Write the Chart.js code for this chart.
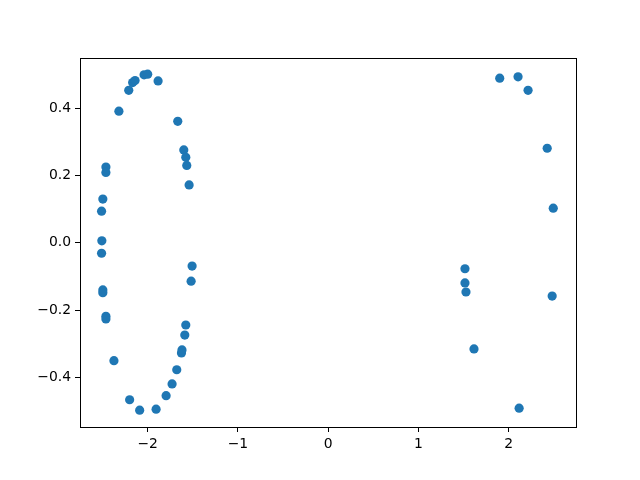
<!DOCTYPE html>
<html>
<head>
<meta charset="utf-8">
<script src="https://cdn.jsdelivr.net/npm/chart.js@4/dist/chart.umd.min.js"></script>
<style>
  body { margin: 0; background: #fff; }
</style>
</head>
<body>
<canvas id="scatterChart" width="640" height="480"></canvas>
<script>
// Point coordinates
const xValues = [
  -2.319, -2.21, -2.167, -2.14, -2.04, -2.00, -1.885, -1.667, -1.60, -1.578, -1.567, -1.541,
  -2.463, -2.463, -2.497, -2.511, -2.508, -2.511, -2.497, -2.497, -2.463, -2.463, -2.374,
  -2.20, -2.089, -1.907, -1.796, -1.73, -1.678, -1.626, -1.62, -1.589, -1.578, -1.519, -1.508,
  1.90, 2.103, 2.214, 2.426, 2.493, 1.515, 1.515, 1.526, 2.481, 1.615, 2.115
];
const yValues = [
  0.391, 0.453, 0.476, 0.482, 0.499, 0.501, 0.481, 0.361, 0.276, 0.254, 0.230, 0.172,
  0.225, 0.209, 0.130, 0.094, 0.006, -0.031, -0.140, -0.148, -0.218, -0.226, -0.350,
  -0.466, -0.497, -0.494, -0.454, -0.419, -0.377, -0.327, -0.318, -0.274, -0.244, -0.114, -0.069,
  0.489, 0.493, 0.453, 0.281, 0.103, -0.077, -0.119, -0.146, -0.158, -0.315, -0.491
];
const xTicks = [-2, -1, 0, 1, 2];
const yTicks = [-0.4, -0.2, 0.0, 0.2, 0.4];

const points = xValues.map((x, i) => ({ x: x, y: yValues[i] }));

function fmt(v, digits) {
  return v.toFixed(digits).replace("-", "\u2212");
}

// draws the top and right spines too
const frame = {
  id: "frame",
  afterDraw(chart) {
    const a = chart.chartArea;
    const ctx = chart.ctx;
    ctx.save();
    ctx.strokeStyle = "#000";
    ctx.lineWidth = 1;
    ctx.strokeRect(Math.round(a.left) + 0.5, Math.round(a.top) + 0.5,
                   Math.round(a.right - a.left), Math.round(a.bottom - a.top));
    ctx.restore();
  }
};

new Chart(document.getElementById("scatterChart"), {
  type: "scatter",
  data: {
    datasets: [{
      data: points,
      backgroundColor: "#1f77b4",
      borderColor: "#1f77b4",
      borderWidth: 0,
      pointRadius: 4.6,
      pointHoverRadius: 4.6
    }]
  },
  options: {
    responsive: false,
    animation: false,
    layout: { padding: { top: 58, right: 64, left: 0, bottom: 0 } },
    plugins: { legend: { display: false }, tooltip: { enabled: false } },
    scales: {
      x: {
        type: "linear",
        min: -2.75,
        max: 2.745,
        afterBuildTicks: axis => { axis.ticks = xTicks.map(v => ({ value: v })); },
        afterFit: axis => { axis.height = 53; },
        border: { color: "#000", width: 1 },
        grid: { drawOnChartArea: false, color: "#000", tickLength: 5 },
        ticks: {
          color: "#000",
          padding: 4,
          maxRotation: 0,
          font: { family: "DejaVu Sans", size: 13.9 },
          callback: v => fmt(v, 0)
        }
      },
      y: {
        type: "linear",
        min: -0.547,
        max: 0.549,
        afterBuildTicks: axis => { axis.ticks = yTicks.map(v => ({ value: v })); },
        afterFit: axis => { axis.width = 80; },
        border: { color: "#000", width: 1 },
        grid: { drawOnChartArea: false, color: "#000", tickLength: 5 },
        ticks: {
          color: "#000",
          padding: 4,
          font: { family: "DejaVu Sans", size: 13.9 },
          callback: v => fmt(v, 1)
        }
      }
    }
  },
  plugins: [frame]
});
</script>
</body>
</html>
